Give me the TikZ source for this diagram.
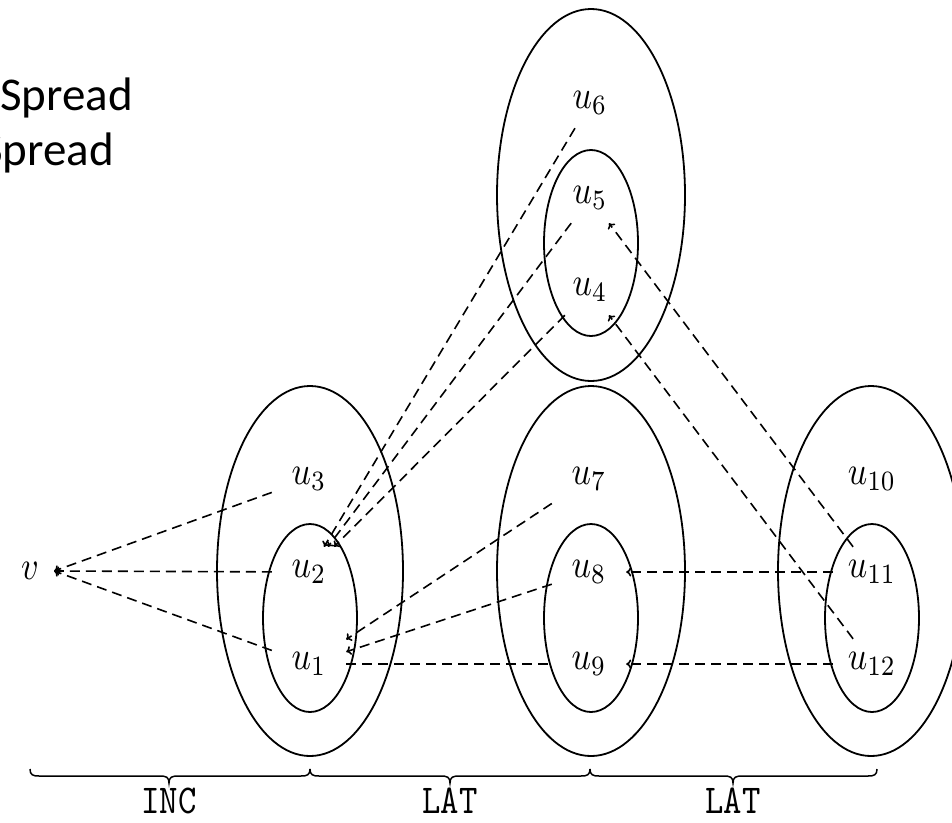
\documentclass[tikz,border=0pt]{standalone}
\usepackage{fontspec}
\newfontfamily\slidefont{Carlito}
\usetikzlibrary{arrows.meta}
% math and typewriter labels are set at 10pt and enlarged
\newcommand{\ulab}[1]{\scalebox{3.4}[4.0]{$#1$}}
\newcommand{\tlab}[1]{\scalebox{3.5}[4.1]{\texttt{#1}}}
\begin{document}
\begin{tikzpicture}[x=1pt,y=-1pt,
  setline/.style={line width=1.8pt},
  vtx/.style={inner sep=0pt, minimum width=74pt, minimum height=50pt},
  link/.style={line width=1.6pt, dash pattern=on 10pt off 6pt},
  arr/.style={link, -{To[length=5pt,width=9pt]}},
  bracepath/.style={line width=1.5pt},
  note/.style={inner sep=0pt, anchor=base west, font=\slidefont\fontsize{47}{56}\selectfont}
]
\useasboundingbox (0,0) rectangle (952,822);
\begin{scope}
\clip (0,0) rectangle (952,822);

% heading fragments
\node[note] (spreadA) at (0,110) {Spread};
\node[note] (spreadB) at (-19,165) {Spread};

% nested sets
\draw[setline] (310,571) ellipse [x radius=93, y radius=185];
\draw[setline] (310,618) ellipse [x radius=47, y radius=94];
\draw[setline] (591,571) ellipse [x radius=94, y radius=185];
\draw[setline] (591,618) ellipse [x radius=47, y radius=94];
\draw[setline] (871,571) ellipse [x radius=93, y radius=185];
\draw[setline] (872,618) ellipse [x radius=47, y radius=94];
\draw[setline] (591,195) ellipse [x radius=94, y radius=186];
\draw[setline] (591,243) ellipse [x radius=47, y radius=93];

% vertices
\node[inner sep=0pt, minimum width=48pt, minimum height=30pt] (v) at (30,571) {\ulab{v}};
\node[vtx] (u3) at (309,479) {\ulab{u_3}};
\node[vtx] (u2) at (309,572) {\ulab{u_2}};
\node[vtx] (u1) at (309,664) {\ulab{u_1}};
\node[vtx] (u6) at (590,103) {\ulab{u_6}};
\node[vtx] (u5) at (590,198) {\ulab{u_5}};
\node[vtx] (u4) at (590,290) {\ulab{u_4}};
\node[vtx] (u7) at (589,479) {\ulab{u_7}};
\node[vtx] (u8) at (589,572) {\ulab{u_8}};
\node[vtx] (u9) at (589,664) {\ulab{u_9}};
\node[vtx] (u10) at (872,479) {\ulab{u_{10}}};
\node[vtx, minimum width=78pt] (u11) at (872,572) {\ulab{u_{11}}};
\node[vtx, minimum width=78pt] (u12) at (872,664) {\ulab{u_{12}}};

% spreading edges
\draw[arr] (u3) -- (v.east);
\draw[arr] (u2) -- (v.east);
\draw[arr] (u1) -- (v.east);
\draw[arr] (u6) -- (u2);
\draw[arr] (u5) -- (u2);
\draw[arr] (u4) -- (u2);
\draw[arr] (u7) -- (u1);
\draw[arr] (u8) -- (u1);
\draw[link] (u1) -- (u9);
\draw[arr] (u11) -- (u8);
\draw[arr] (u12) -- (u9);
\draw[arr] (u11) -- (u5);
\draw[arr] (u12) -- (u4);

% underbraces
\foreach \a/\m/\b in {30/169/310, 310/450/590, 590/733/877}{
  \draw[bracepath] (\a,769) .. controls (\a,775) and (\a+3,776) .. (\a+9,776)
    -- (\m-9,776) .. controls (\m-3,776) and (\m,777) .. (\m,783)
    .. controls (\m,777) and (\m+3,776) .. (\m+9,776)
    -- (\b-9,776) .. controls (\b-3,776) and (\b,775) .. (\b,769);
}
\node (inc) at (169,801) {\tlab{INC}};
\node (latA) at (450,801) {\tlab{LAT}};
\node (latB) at (733,801) {\tlab{LAT}};
\end{scope}
\end{tikzpicture}
\end{document}
